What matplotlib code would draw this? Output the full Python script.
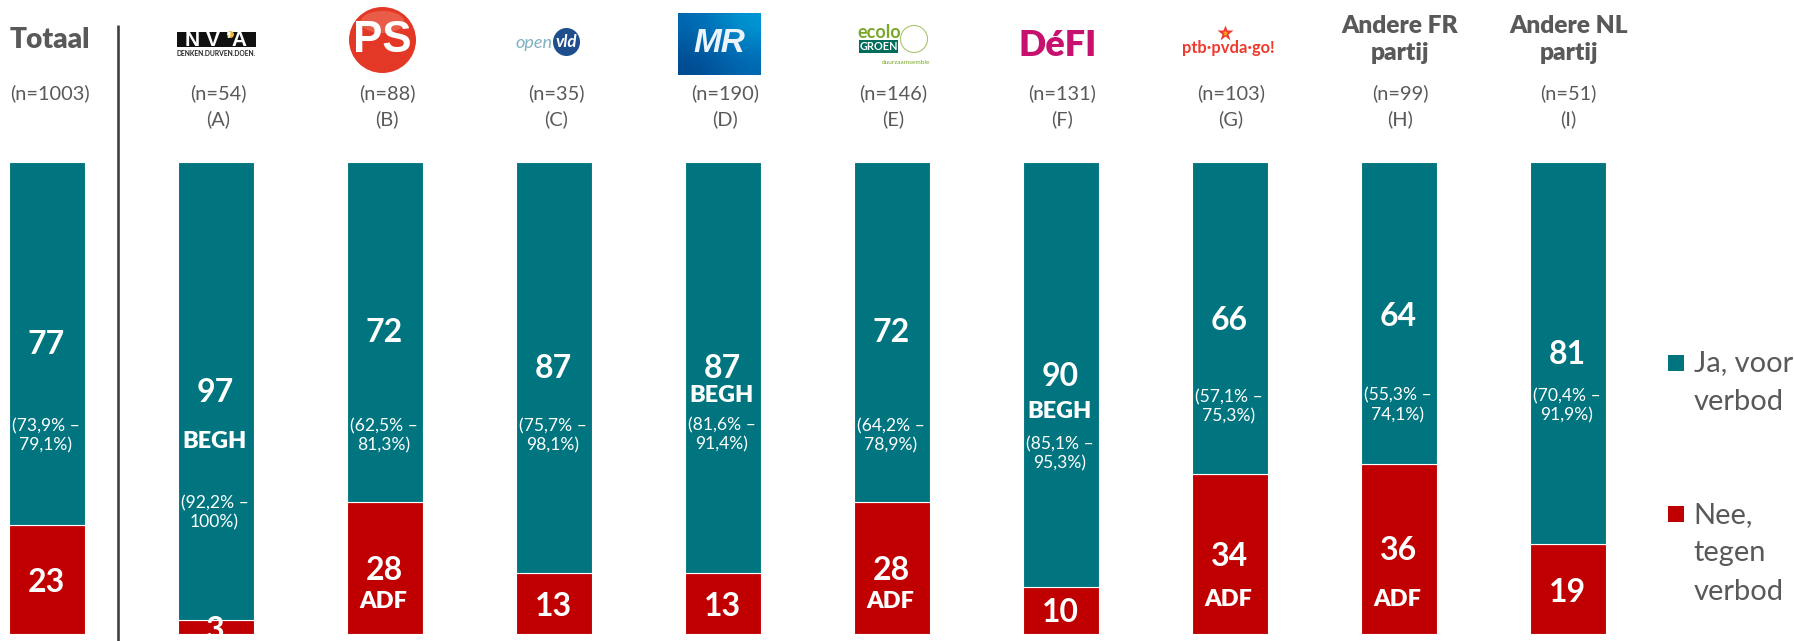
import numpy as np
import matplotlib
matplotlib.use("Agg")
import matplotlib.pyplot as plt
from matplotlib.patches import Ellipse, Rectangle
from matplotlib.transforms import Affine2D

plt.rcParams['font.family'] = ['Lato', 'DejaVu Sans']

W, H = 1794, 641
TEAL = '#00757F'
RED = '#C00000'
GREY = '#595959'

groups = ['Totaal', 'NV-A', 'PS', 'Open Vld', 'MR', 'Ecolo-Groen', 'DéFI', 'PTB-PVDA', 'Andere FR partij', 'Andere NL partij']
ja = [77, 97, 72, 87, 87, 72, 90, 66, 64, 81]
nee = [23, 3, 28, 13, 13, 28, 10, 34, 36, 19]
ns = ['(n=1003)', '(n=54)', '(n=88)', '(n=35)', '(n=190)', '(n=146)', '(n=131)', '(n=103)', '(n=99)', '(n=51)']
letters = ['', '(A)', '(B)', '(C)', '(D)', '(E)', '(F)', '(G)', '(H)', '(I)']
ci = ['(73,9% –\n79,1%)', '(92,2% –\n100%)', '(62,5% –\n81,3%)', '(75,7% –\n98,1%)', '(81,6% –\n91,4%)',
      '(64,2% –\n78,9%)', '(85,1% –\n95,3%)', '(57,1% –\n75,3%)', '(55,3% –\n74,1%)', '(70,4% –\n91,9%)']
ja_sig = ['', 'BEGH', '', '', 'BEGH', '', 'BEGH', '', '', '']
nee_sig = ['', '', 'ADF', '', '', 'ADF', '', 'ADF', 'ADF', '']

# Layout (pixels from the top-left of the image)
X0, DX, BAR_W = 46.5, 169.0, 76.0
Y_BOT, PX_PER_PCT = 634.0, 4.72
ja_y = [345, 392, 333, 369, 368, 333, 376, 320, 316, 355]
ci_y = [436, 513, 436, 436, 435, 436, 454, 407, 405.5, 406]
ja_sig_y = [0, 441, 0, 0, 395, 0, 412, 0, 0, 0]
nee_y = [582, 630, 570, 606, 606, 571, 613, 556, 550, 592]
nee_sig_y = [0, 0, 601, 0, 0, 602, 0, 600, 600, 0]
n_x = [50, 218, 387, 556, 725, 893.5, 1062, 1231, 1400, 1568.5]

fig = plt.figure(figsize=(W / 100, H / 100), dpi=100)
ax = fig.add_axes([0, 0, 1, 1])
ax.set_xlim(-X0 / DX, (W - X0) / DX)
ax.set_ylim((Y_BOT - H) / PX_PER_PCT, Y_BOT / PX_PER_PCT)
ax.axis('off')
px = Affine2D().scale(1, -1).translate(0, H)


def t(x, y, s, size, color='white', weight='normal', ha='center', **kw):
    return ax.text(x, y, s, fontsize=size * 0.72, color=color, fontweight=weight, ha=ha, va='center',
                   transform=px, **kw)


pos = np.arange(len(groups))
bw = BAR_W / DX
bars_nee = ax.bar(pos, nee, width=bw, color=RED, edgecolor='white', linewidth=0.8)
bars_ja = ax.bar(pos, ja, bottom=nee, width=bw, color=TEAL, edgecolor='white', linewidth=0.8)

for i in pos:
    xc = X0 + DX * i
    t(xc, ja_y[i], str(ja[i]), 32, weight='bold')
    t(xc - 1, ci_y[i], ci[i], 17.5, linespacing=1.25)
    if ja_sig[i]:
        t(xc - 1, ja_sig_y[i], ja_sig[i], 23.5, weight='heavy')
    lab = t(xc, nee_y[i], str(nee[i]), 32, weight='bold')
    lab.set_clip_path(bars_nee[i])
    if nee_sig[i]:
        t(xc - 1, nee_sig_y[i], nee_sig[i], 23.5, weight='heavy')
    t(n_x[i], 93, ns[i], 20, color=GREY)
    if letters[i]:
        t(n_x[i], 119, letters[i], 20, color=GREY)

# Separator
ax.plot([117.5, 117.5], [25, H], color='#404040', lw=1.9, transform=px, solid_capstyle='butt')

# Text headers
t(50, 40, 'Totaal', 28, color=GREY, weight='heavy')
t(1400, 26, 'Andere FR', 24.5, color=GREY, weight='heavy')
t(1400, 53, 'partij', 24.5, color=GREY, weight='heavy')
t(1569, 26, 'Andere NL', 24.5, color=GREY, weight='heavy')
t(1569, 53, 'partij', 24.5, color=GREY, weight='heavy')

# Logos ------------------------------------------------------------------
# NV-A
ax.add_patch(Rectangle((177, 32), 79, 15, fc='#111111', ec='none', transform=px))
t(216, 40, 'N V ’A', 21, weight='heavy', family=['Liberation Sans'])
ax.plot([230], [33.5], 'o', ms=5, color='#EDB93C', mec='none', transform=px)
t(216.5, 53, 'DENKEN.DURVEN.DOEN.', 6.8, color='#222222', weight='bold')
# PS
ax.add_patch(Ellipse((382.5, 40), 67, 66, fc='#E43826', ec='none', transform=px))
ax.add_patch(Ellipse((382.5, 22), 44, 22, fc='#EE7A63', ec='none', alpha=0.55, transform=px))
t(382, 41, 'PS', 44, weight='bold', family=['Liberation Sans'])
# Open Vld
t(534, 43, 'open', 18, color='#7FB2C2', style='italic')
ax.add_patch(Ellipse((566.5, 42), 27, 28, fc='#1F4E8C', ec='none', transform=px))
t(566.5, 42, 'vld', 17, weight='bold', style='italic')
# MR
axm = fig.add_axes([678 / W, 1 - 75 / H, 83 / W, 62 / H])
axm.imshow([[0.4, 1.0], [0.0, 0.4]], cmap=matplotlib.colors.LinearSegmentedColormap.from_list(
    'mr', ['#00498F', '#0070B8', '#009AD6']), aspect='auto', interpolation='bicubic')
axm.axis('off')
fig.text(719 / W, 1 - 44 / H, 'MR', fontsize=24, color='#EAF4FA', fontweight='bold', style='italic',
         ha='center', va='center', family=['Liberation Sans'], zorder=10)
# Ecolo / Groen
t(879, 32, 'ecolo', 18, color='#7AA829', weight='bold')
ax.add_patch(Rectangle((859, 40), 39, 13, fc='#006C5B', ec='none', transform=px))
t(878.5, 46.5, 'GROEN', 11, weight='bold')
ax.add_patch(Ellipse((914, 39), 27, 27, fc='none', ec='#A9C56E', lw=0.8, transform=px))
t(906, 63, 'duurzaamsemble', 6.5, color='#7AA829')
# DeFI
t(1058, 45, 'DéFI', 36, color='#C6116E', weight='heavy')
# PTB
ax.plot([1225], [33], '*', ms=12, color='#F03A2E', mec='none', transform=px)
ax.plot([1225], [33], '*', ms=5, color='#F6B21B', mec='none', transform=px)
t(1228, 48, 'ptb·pvda·go!', 16.5, color='#F03A2E', weight='bold')

# Legend -----------------------------------------------------------------
ax.add_patch(Rectangle((1668, 355), 16, 16, fc=TEAL, ec='none', transform=px))
ax.add_patch(Rectangle((1668, 506), 16, 16, fc=RED, ec='none', transform=px))
for y, s in [(363, 'Ja, voor'), (402, 'verbod'), (515, 'Nee,'), (553, 'tegen'), (592, 'verbod')]:
    t(1693.5, y, s, 29, color=GREY, ha='left')

fig.savefig('out.png', dpi=100, facecolor='white')
